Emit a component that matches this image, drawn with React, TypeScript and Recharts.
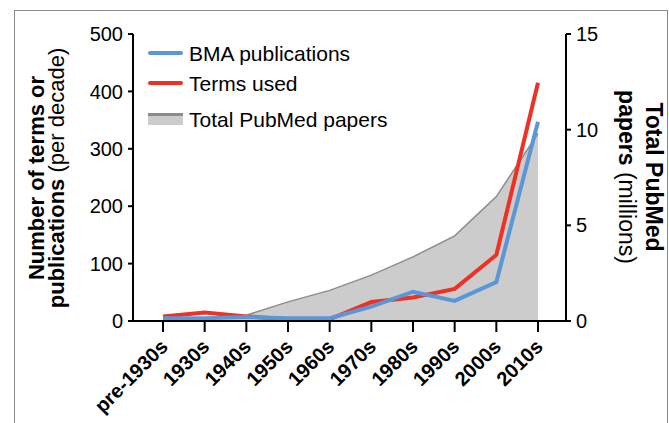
import React from 'react';
import { ComposedChart, XAxis, YAxis, Line, Area } from 'recharts';

const decades = ['pre-1930s', '1930s', '1940s', '1950s', '1960s', '1970s', '1980s', '1990s', '2000s', '2010s'];
const bmaPublications = [5, 5, 7, 5, 5, 25, 51, 35, 68, 347];
const termsUsed = [8, 15, 8, 3, 3, 33, 41, 56, 115, 415];
const pubmedMillions = [0.1, 0.1, 0.3, 1.0, 1.6, 2.4, 3.35, 4.45, 6.5, 9.8];

const leftTicks = [0, 100, 200, 300, 400, 500];
const rightTicks = [0, 5, 10, 15];

const FONT = '"Liberation Sans", Arial, sans-serif';
const BLUE = '#5b96d6';
const RED = '#ee3124';

const data = decades.map((d, i) => ({
  decade: d,
  bma: bmaPublications[i],
  terms: termsUsed[i],
  pubmed: pubmedMillions[i],
}));

const XTick = ({ x, y, payload }: any) => (
  <g transform={`translate(${x + 6},${y + 14})`}>
    <text textAnchor="end" transform="rotate(-45)" fontFamily={FONT} fontSize={20} fontWeight="bold" fill="#000">
      {payload.value}
    </text>
  </g>
);

// legend drawn as a plain overlay so it does not eat into the plot area
const LegendBox = () => (
  <div style={{ position: 'absolute', left: 148, top: 38, fontFamily: FONT, fontSize: 21, color: '#000', lineHeight: '21px' }}>
    <div style={{ display: 'flex', alignItems: 'center', height: 30 }}>
      <div style={{ width: 35, height: 4, background: BLUE, borderRadius: 2, marginRight: 6 }} />
      BMA publications
    </div>
    <div style={{ display: 'flex', alignItems: 'center', height: 30 }}>
      <div style={{ width: 35, height: 4, background: RED, borderRadius: 2, marginRight: 6 }} />
      Terms used
    </div>
    <div style={{ display: 'flex', alignItems: 'center', height: 42 }}>
      <div style={{ width: 35, height: 9, background: '#cccccc', borderTop: '3px solid #8c8c8c', marginRight: 6 }} />
      Total PubMed papers
    </div>
  </div>
);

const LeftLabel = () => (
  <text transform="translate(0,178) rotate(-90)" textAnchor="middle" fontFamily={FONT} fontSize={22} fill="#000">
    <tspan x={0} y={44} fontWeight="bold">Number of terms or</tspan>
    <tspan x={0} y={64} fontWeight="bold">publications <tspan fontWeight="normal">(per decade)</tspan></tspan>
  </text>
);

const RightLabel = () => (
  <text transform="translate(0,177) rotate(90)" textAnchor="middle" fontFamily={FONT} fontSize={23} fill="#000">
    <tspan x={0} y={-646} fontWeight="bold">Total PubMed</tspan>
    <tspan x={0} y={-619} fontWeight="bold">papers <tspan fontWeight="normal">(millions)</tspan></tspan>
  </text>
);

export default function App() {
  return (
    <div style={{ position: 'absolute', left: 0, top: 0, width: 669, height: 423, overflow: 'hidden', background: '#fff' }}>
      <div style={{ position: 'absolute', left: 14, top: 10, width: 652, height: 430, border: '1.5px solid #8a8a8a' }} />
      <ComposedChart width={669} height={423} data={data} margin={{ top: 34, right: 33, bottom: 12, left: 63 }}>
        <XAxis
          dataKey="decade"
          padding={{ left: 30, right: 28 }}
          height={90}
          tickSize={11}
          tick={<XTick />}
          interval={0}
          axisLine={{ stroke: '#000', strokeWidth: 2 }}
          tickLine={{ stroke: '#000', strokeWidth: 2 }}
        />
        <YAxis
          yAxisId="left"
          orientation="left"
          width={70}
          domain={[0, 500]}
          ticks={leftTicks}
          tickSize={5}
          tickMargin={5}
          tick={{ fontFamily: FONT, fontSize: 20, fill: '#000' }}
          axisLine={{ stroke: '#000', strokeWidth: 2 }}
          tickLine={{ stroke: '#000', strokeWidth: 2 }}
        />
        <YAxis
          yAxisId="right"
          orientation="right"
          width={70}
          domain={[0, 15]}
          ticks={rightTicks}
          tickSize={5}
          tickMargin={5}
          tick={{ fontFamily: FONT, fontSize: 20, fill: '#000' }}
          axisLine={{ stroke: '#000', strokeWidth: 2 }}
          tickLine={{ stroke: '#000', strokeWidth: 2 }}
        />
        <Area
          yAxisId="right"
          type="linear"
          dataKey="pubmed"
          stroke="#8c8c8c"
          strokeWidth={1.5}
          fill="#cccccc"
          fillOpacity={1}
          isAnimationActive={false}
        />
        <Line yAxisId="left" type="linear" dataKey="terms" stroke={RED} strokeWidth={4} dot={false} isAnimationActive={false} />
        <Line yAxisId="left" type="linear" dataKey="bma" stroke={BLUE} strokeWidth={4} dot={false} isAnimationActive={false} />
        <LeftLabel />
        <RightLabel />
      </ComposedChart>
      <LegendBox />
    </div>
  );
}
